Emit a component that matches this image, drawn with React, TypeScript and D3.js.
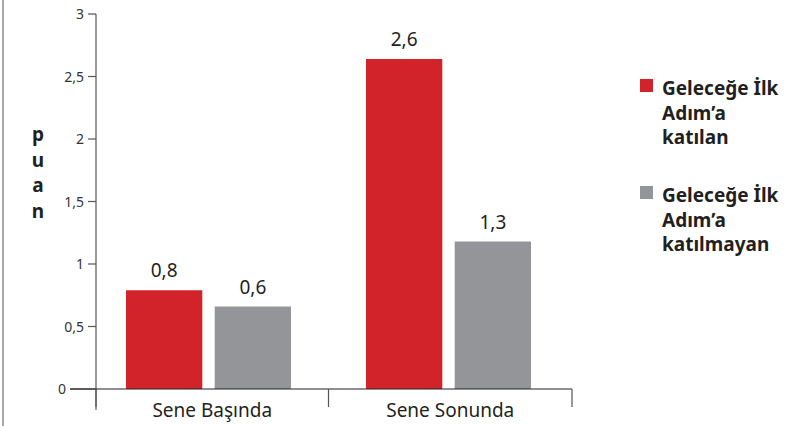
import React from "react";
import * as d3 from "d3";

const categories = ["Sene Başında", "Sene Sonunda"];
const seriesNames = ["Geleceğe İlk Adım’a katılan", "Geleceğe İlk Adım’a katılmayan"];
const legendLines = [
  ["Geleceğe İlk", "Adım’a", "katılan"],
  ["Geleceğe İlk", "Adım’a", "katılmayan"],
];
const participated = [0.79, 2.64];
const notParticipated = [0.66, 1.18];
const participatedLabels = ["0,8", "2,6"];
const notParticipatedLabels = ["0,6", "1,3"];
const yTicks = [0, 0.5, 1, 1.5, 2, 2.5, 3];
const yTickLabels = ["0", "0,5", "1", "1,5", "2", "2,5", "3"];
const axisTitle = ["p", "u", "a", "n"];
const colors = ["#D2232A", "#939598"];

const W = 805;
const H = 426;
const FONT = "'Noto Sans', 'Open Sans', sans-serif";

export default function App() {
  const y = d3.scaleLinear().domain([0, 3]).range([389, 14]);
  const x0 = d3.scaleBand<string>().domain(categories).range([126, 531]).paddingInner(0.3125).paddingOuter(0);
  const x1 = d3.scaleBand<string>().domain(seriesNames).range([0, x0.bandwidth()]).paddingInner(0.14);
  const gapHalf = (x0.step() - x0.bandwidth()) / 2;
  const axisLeft = 96;
  const axisRight = 572;
  const boundaries = [axisLeft, (x0(categories[1]) as number) - gapHalf, axisRight];
  const values = [participated, notParticipated];
  const labels = [participatedLabels, notParticipatedLabels];

  return (
    <svg width={W} height={H} style={{ position: "absolute", left: 0, top: 0, background: "#fff" }} fontFamily={FONT}>
      <rect x={0} y={0} width={W} height={H} fill="#fff" />
      <line x1={3} x2={3} y1={0} y2={H} stroke="#8a8a8a" strokeWidth={1.5} />
      {/* y axis */}
      <line x1={axisLeft} x2={axisLeft} y1={y(3)} y2={410} stroke="#555" strokeWidth={1.2} />
      {yTicks.map((t, i) => (
        <g key={t}>
          <line x1={t === 0 ? 70 : 88} x2={axisLeft} y1={y(t)} y2={y(t)} stroke="#555" strokeWidth={1.2} />
          <text x={t === 0 ? 66 : 84} y={y(t) + 5} textAnchor="end" fontSize={14} fill="#333">
            {yTickLabels[i]}
          </text>
        </g>
      ))}
      {axisTitle.map((ch, i) => (
        <text key={i} x={38} y={141 + i * 25.5} textAnchor="middle" fontSize={19} fontWeight="bold" fill="#231F20">
          {ch}
        </text>
      ))}
      {/* bars */}
      {categories.map((c, ci) =>
        seriesNames.map((s, si) => {
          const bx = (x0(c) as number) + (x1(s) as number);
          const v = values[si][ci];
          return (
            <g key={c + s}>
              <rect x={bx} y={y(v)} width={x1.bandwidth()} height={y(0) - y(v)} fill={colors[si]} />
              <text x={bx + x1.bandwidth() / 2} y={y(v) - 13} textAnchor="middle" fontSize={19} fill="#231F20">
                {labels[si][ci]}
              </text>
            </g>
          );
        })
      )}
      {/* x axis */}
      <line x1={70} x2={axisRight} y1={y(0)} y2={y(0)} stroke="#222" strokeWidth={1.2} />
      {boundaries.map((b, i) => (
        <line key={i} x1={b} x2={b} y1={y(0)} y2={407} stroke="#555" strokeWidth={1.2} />
      ))}
      {categories.map((c, i) => (
        <text key={c} x={(boundaries[i] + boundaries[i + 1]) / 2} y={417} textAnchor="middle" fontSize={19} fill="#231F20">
          {c}
        </text>
      ))}
      {/* legend */}
      {legendLines.map((lines, li) => (
        <g key={li} transform={`translate(640, ${79 + li * 107})`}>
          <rect x={0} y={0} width={13} height={13} fill={colors[li]} />
          {lines.map((ln, k) => (
            <text key={k} x={22} y={16 + k * 24.5} fontSize={19} fontWeight="bold" fill="#231F20">
              {ln}
            </text>
          ))}
        </g>
      ))}
    </svg>
  );
}
